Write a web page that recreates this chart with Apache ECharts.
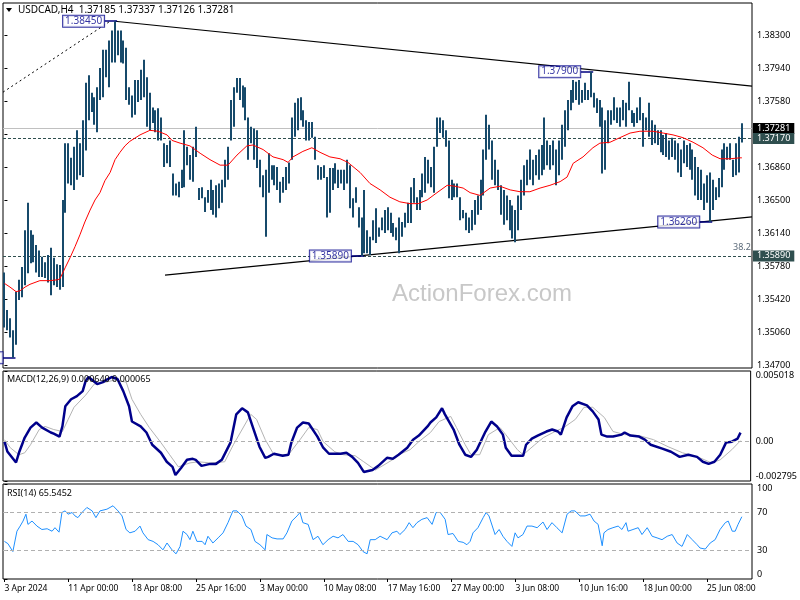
<!DOCTYPE html>
<html><head><meta charset="utf-8">
<script src="https://cdn.jsdelivr.net/npm/echarts@6/dist/echarts.min.js"></script>
<style>html,body{margin:0;padding:0;background:#fff}#c{width:800px;height:600px}</style>
</head><body><div id="c"></div>
<script>
// ---- DATA ----
const symbolName = 'USDCAD,H4';
const lastBarOHLC = [1.37185, 1.37337, 1.37126, 1.37281];
const highs = [
1.3571,1.3530,1.3521,1.3508,1.3550,1.3563,1.3577,1.3617,1.3647,1.3617,
1.3612,1.3601,1.3595,1.3588,1.3582,1.3590,1.3598,1.3587,1.3580,1.3579,
1.3650,1.3712,1.3712,1.3696,1.3708,1.3726,1.3712,1.3737,1.3778,1.3786,
1.3767,1.3762,1.3773,1.3794,1.3814,1.3814,1.3824,1.3835,1.3845,1.3835,
1.3835,1.3824,1.3816,1.3773,1.3764,1.3781,1.3781,1.3792,1.3803,1.3784,
1.3767,1.3751,1.3748,1.3750,1.3740,1.3712,1.3710,1.3715,1.3679,1.3668,
1.3670,1.3683,1.3726,1.3708,1.3699,1.3708,1.3730,1.3663,1.3664,1.3653,
1.3661,1.3672,1.3661,1.3666,1.3668,1.3672,1.3694,1.3708,1.3759,1.3773,
1.3783,1.3783,1.3775,1.3773,1.3740,1.3730,1.3728,1.3726,1.3694,1.3677,
1.3683,1.3701,1.3688,1.3688,1.3686,1.3670,1.3675,1.3686,1.3691,1.3740,
1.3756,1.3761,1.3762,1.3748,1.3737,1.3735,1.3735,1.3719,1.3688,1.3686,
1.3688,1.3675,1.3685,1.3685,1.3690,1.3683,1.3683,1.3683,1.3694,1.3688,
1.3652,1.3664,1.3642,1.3631,1.3661,1.3617,1.3610,1.3628,1.3641,1.3620,
1.3631,1.3639,1.3642,1.3636,1.3625,1.3620,1.3631,1.3626,1.3636,1.3647,
1.3664,1.3674,1.3653,1.3661,1.3679,1.3697,1.3694,1.3686,1.3708,1.3740,
1.3740,1.3737,1.3726,1.3715,1.3672,1.3668,1.3668,1.3653,1.3639,1.3636,
1.3631,1.3639,1.3650,1.3655,1.3672,1.3705,1.3743,1.3732,1.3715,1.3694,
1.3683,1.3666,1.3661,1.3655,1.3650,1.3644,1.3639,1.3655,1.3672,1.3688,
1.3694,1.3705,1.3694,1.3699,1.3705,1.3710,1.3740,1.3715,1.3710,1.3715,
1.3705,1.3715,1.3732,1.3748,1.3759,1.3770,1.3781,1.3779,1.3781,1.3770,
1.3778,1.3770,1.3790,1.3767,1.3761,1.3759,1.3751,1.3737,1.3748,1.3748,
1.3762,1.3751,1.3751,1.3759,1.3756,1.3779,1.3748,1.3745,1.3751,1.3762,
1.3745,1.3740,1.3756,1.3737,1.3732,1.3726,1.3726,1.3721,1.3723,1.3715,
1.3718,1.3715,1.3712,1.3705,1.3715,1.3710,1.3712,1.3705,1.3697,1.3686,
1.3683,1.3668,1.3677,1.3680,1.3672,1.3664,1.3674,1.3705,1.3712,1.3708,
1.3712,1.3694,1.3712,1.3719,1.37337];
const lows = [
1.3511,1.3508,1.3500,1.3478,1.3492,1.3541,1.3544,1.3557,1.3570,1.3581,
1.3582,1.3571,1.3566,1.3566,1.3565,1.3560,1.3546,1.3557,1.3555,1.3552,
1.3555,1.3636,1.3668,1.3666,1.3661,1.3672,1.3677,1.3675,1.3704,1.3737,
1.3746,1.3732,1.3724,1.3759,1.3762,1.3784,1.3773,1.3800,1.3800,1.3808,
1.3800,1.3799,1.3759,1.3754,1.3740,1.3743,1.3757,1.3759,1.3762,1.3730,
1.3726,1.3734,1.3724,1.3715,1.3715,1.3686,1.3690,1.3686,1.3655,1.3655,
1.3653,1.3663,1.3664,1.3688,1.3672,1.3670,1.3697,1.3650,1.3652,1.3637,
1.3647,1.3639,1.3634,1.3631,1.3641,1.3647,1.3664,1.3672,1.3715,1.3730,
1.3767,1.3759,1.3751,1.3737,1.3694,1.3712,1.3694,1.3685,1.3664,1.3653,
1.3610,1.3658,1.3672,1.3666,1.3661,1.3647,1.3658,1.3661,1.3668,1.3694,
1.3719,1.3726,1.3737,1.3730,1.3715,1.3715,1.3718,1.3694,1.3672,1.3672,
1.3674,1.3631,1.3636,1.3661,1.3668,1.3663,1.3668,1.3661,1.3668,1.3641,
1.3631,1.3647,1.3620,1.3589,1.3592,1.3592,1.3590,1.3606,1.3603,1.3610,
1.3617,1.3614,1.3617,1.3614,1.3610,1.3606,1.3592,1.3610,1.3620,1.3625,
1.3625,1.3647,1.3639,1.3639,1.3653,1.3658,1.3668,1.3664,1.3658,1.3708,
1.3723,1.3718,1.3708,1.3652,1.3650,1.3653,1.3653,1.3628,1.3630,1.3617,
1.3614,1.3617,1.3623,1.3634,1.3639,1.3655,1.3694,1.3705,1.3672,1.3666,
1.3661,1.3634,1.3623,1.3628,1.3617,1.3608,1.3604,1.3617,1.3639,1.3655,
1.3666,1.3672,1.3666,1.3677,1.3672,1.3677,1.3683,1.3688,1.3683,1.3688,
1.3666,1.3677,1.3694,1.3708,1.3726,1.3748,1.3756,1.3759,1.3754,1.3756,
1.3759,1.3759,1.3762,1.3751,1.3745,1.3730,1.3679,1.3683,1.3712,1.3732,
1.3737,1.3734,1.3730,1.3737,1.3730,1.3748,1.3734,1.3730,1.3734,1.3737,
1.3708,1.3726,1.3719,1.3710,1.3712,1.3710,1.3702,1.3699,1.3697,1.3694,
1.3697,1.3694,1.3680,1.3675,1.3690,1.3686,1.3683,1.3672,1.3655,1.3650,
1.3650,1.3639,1.3647,1.3626,1.3639,1.3650,1.3653,1.3664,1.3683,1.3694,
1.3694,1.3675,1.3677,1.3680,1.37126];

const maPos = [0,1.9,4,5.4,7.1,8.8,12.2,15.7,18.4,19.1,20.9,22.6,24.3,26,27.7,29.5,31.2,32.9,34.6,36.4,38.1,39.8,41.5,43.2,46.7,50.1,52.9,56,57.7,60.5,63.9,67.4,70.8,74.3,77,80.1,83.5,85.6,89.1,92.5,96,97.7,99.4,102.8,105.9,108.7,112.1,115.6,118.3,122.5,125.9,129.4,132.8,136.2,139.7,142.5,145.6,149,152.5,155.2,158,160.4,163.8,167.3,170.7,174.2,177.6,181,184.5,187.9,191.4,193.8,195.9,199.3,202.7,205.1,208.6,212,215.5,218.9,223.4,226.9,230.3,233.7,237.2,240.6,243.8,246.5,250,253.4,254];
const maVal = [1.3559,1.3555,1.3550,1.3551,1.3555,1.3558,1.3562,1.3562,1.3563,1.3564,1.3576,1.3587,1.3599,1.3612,1.3626,1.3639,1.3650,1.3658,1.3671,1.3680,1.3694,1.3702,1.3709,1.3714,1.3721,1.3726,1.3725,1.3721,1.3715,1.3712,1.3709,1.3701,1.3694,1.3688,1.3688,1.3699,1.3709,1.3710,1.3705,1.3697,1.3694,1.3691,1.3697,1.3703,1.3707,1.3702,1.3697,1.3695,1.3691,1.3680,1.3668,1.3661,1.3653,1.3648,1.3646,1.3646,1.3650,1.3658,1.3666,1.3665,1.3663,1.3658,1.3655,1.3663,1.3665,1.3661,1.3659,1.3659,1.3663,1.3666,1.3670,1.3675,1.3690,1.3697,1.3707,1.3712,1.3713,1.3718,1.3723,1.3725,1.3725,1.3723,1.3721,1.3718,1.3713,1.3707,1.3699,1.3695,1.3695,1.3696,1.3696];

const macdPos = [0,1,4,5,7,9,11,13,16,17,19,20,21,23,25,27,28,29,32,34,35,37,39,41,43,44,47,49,51,54,56,58,59,61,63,65,66,68,71,73,75,78,80,82,84,86,88,90,91,93,96,98,99,101,103,105,108,110,112,116,118,120,122,124,127,129,132,134,136,139,141,143,146,147,149,151,152,155,157,159,161,163,166,168,170,172,173,175,179,180,182,184,187,189,191,192,194,196,198,201,203,205,206,208,210,213,214,216,219,221,223,227,230,233,236,239,241,243,245,247,249,251,253,254];
const macdVal = [0.00002,-0.0007,-0.00148,-0.00079,0.00029,0.001,0.00136,0.001,0.00065,0.00057,0.00036,0.00108,0.00251,0.00301,0.00323,0.00359,0.0043,0.00459,0.00409,0.00423,0.00437,0.00459,0.00445,0.00359,0.00251,0.00143,0.00108,0.00065,-0.00022,-0.00079,-0.00143,-0.00179,-0.00237,-0.00186,-0.00129,-0.00122,-0.00129,-0.00172,-0.00158,-0.00158,-0.00129,-0.00007,0.00194,0.00237,0.00208,0.00086,-0.00036,-0.00115,-0.00108,-0.00086,-0.001,-0.00093,-0.00007,0.001,0.00136,0.00129,0.00036,-0.00043,-0.00086,-0.00086,-0.00079,-0.00108,-0.00151,-0.00215,-0.00201,-0.00172,-0.00115,-0.00122,-0.00093,-0.00043,0.00014,0.00043,0.00108,0.00136,0.00172,0.00237,0.00194,0.00086,-0.00022,-0.00093,-0.00108,-0.00057,0.00072,0.00143,0.00108,0.0005,-0.00043,-0.001,-0.001,-0.00022,0.00022,0.00043,0.00072,0.00086,0.00072,0.0005,0.00172,0.00251,0.0028,0.00258,0.00215,0.00158,0.0005,0.00036,0.00036,0.0005,0.00065,0.00043,0.00036,0.00014,-0.00022,-0.0005,-0.00072,-0.00108,-0.00093,-0.00108,-0.00143,-0.00158,-0.00143,-0.00093,-0.00007,0,0.00022,0.00064];
const sigPos = [0,2,5,7,9,12,14,17,20,22,24,28,31,35,38,42,44,47,50,54,57,60,64,67,71,76,79,85,87,90,93,98,102,105,108,110,114,117,121,124,128,131,135,136,140,143,147,150,154,156,159,161,164,167,171,173,177,179,183,186,190,193,197,200,203,207,210,214,219,224,229,234,240,244,247,251,254];
const sigVal = [0.00014,-0.00043,-0.00093,-0.00079,-0.00022,0.00086,0.00108,0.00086,0.00072,0.00158,0.00244,0.0033,0.00409,0.00423,0.00437,0.00423,0.00301,0.00194,0.001,-0.00007,-0.00093,-0.00179,-0.00151,-0.00143,-0.00151,-0.00143,-0.00022,0.00194,0.00158,0.00014,-0.00093,-0.00093,0.00014,0.001,0.00086,0,-0.00072,-0.00093,-0.001,-0.00143,-0.00201,-0.00165,-0.00115,-0.00093,-0.00057,0,0.00065,0.00143,0.00179,0.001,-0.00022,-0.00093,-0.00093,0.0005,0.001,0.0005,-0.00057,-0.00093,-0.00022,0.00029,0.00072,0.001,0.00158,0.00244,0.00244,0.00172,0.00072,0.0005,0.00043,0.00014,-0.00036,-0.00079,-0.00115,-0.00151,-0.00129,-0.00057,0.00007];

const rsiPos = [0,1.2,2.9,4.3,5.4,6.4,7.4,8.1,9.5,11.2,12.9,14.7,16.4,17.4,18.8,19.8,20.9,21.9,23.3,24.3,25.3,26.7,28.4,30.2,31.5,32.9,35.3,37.4,39.1,40.5,41.9,43.2,45,46.7,47.7,49.5,51.2,52.9,54.6,56,57.7,59.1,60.5,61.5,62.9,63.9,64.9,66.3,68.1,69.1,70.1,71.8,73.6,75.3,77,78.7,80.1,81.8,83.2,84.9,86.3,88,89.8,90.4,92.2,93.9,96,97.3,99,100.8,101.8,102.8,104.6,106.3,108,109.7,111.5,113.2,114.9,116.6,118.4,120.1,121.8,123.5,124.9,126,127.7,129.4,131.8,133.5,135.2,136.2,138,139.4,140.7,142.1,143.8,145.6,147.3,148.7,150.1,151.8,152.8,154.5,156.3,158,159.3,160.4,161.4,163.1,164.9,165.9,166.9,169,170.4,171.7,173.1,174.8,175.9,176.9,178.6,180,181.7,183.5,185.5,186.9,188.6,190.3,192.1,193.8,195.2,196.5,198.3,200,201.7,203.1,204.5,205.9,206.5,207.9,209.6,211.4,212.7,214.1,214.8,216.5,218.3,219.6,221.4,223.1,224.8,226.5,228.3,230,231.7,233.4,235.2,236.9,238.6,239.6,241.4,243.1,244.8,246.5,248.3,249.3,250.7,251.7,252.7,254];
const rsiVal = [39.6,37.2,28.9,50.3,55.7,61,68.2,57.5,61,55.7,52.1,52.9,50.3,54,49.3,70,71.7,68.2,70,66.4,64.6,70,75.3,71.7,64.6,71.7,73.5,77.1,71.7,66.4,52.1,48.6,50.3,55.7,48.6,41.4,39.6,36.1,30.7,37.9,30.7,26.5,34.3,50.3,46.8,41.4,50.3,39.6,39.6,36.1,45,37.9,43.3,48.6,59.3,71.7,71.7,66.4,55.7,52.1,39.6,36.1,30.7,46.8,43.3,42.2,42.2,48.6,61,66.4,70,59.3,57.5,41.4,45,36.1,41.4,45,43.3,46.8,39.6,39.6,36.1,28.9,26.5,41.4,41.4,45,41.4,48.6,50.3,46.8,52.1,59.3,54,59.3,62.8,64.6,57.5,70,70,62.8,46.8,47.9,39.6,38.6,36.1,39.6,48.6,54,64.6,70,66.4,46.8,52.1,45,39.6,34.3,48.6,43.3,46.8,55.7,55.7,54,60,52.1,59.3,54,48.6,68.2,71.7,71.7,66.4,66.4,68.2,61,57.5,35,48.6,52.1,54,55.7,52.1,59.3,50.3,52.1,54,46.8,54,45,43.3,41.4,45,46.8,37.9,34.3,46.8,41.4,36.1,32.6,31.5,37.9,41.4,52.1,59.3,61,50.3,50.3,57.5,65.5452];

const priceTicks = [1.347,1.3506,1.3542,1.3578,1.3614,1.365,1.3686,1.3722,1.3758,1.3794,1.383];
const macdTicks = [-0.002795, 0, 0.005018];
const rsiTicks = [0, 30, 70, 100];
const timeLabels = ['3 Apr 2024','11 Apr 00:00','18 Apr 08:00','25 Apr 16:00','3 May 00:00','10 May 08:00','17 May 16:00','27 May 00:00','3 Jun 08:00','10 Jun 16:00','18 Jun 00:00','25 Jun 08:00'];
const timeTickPos = [0,22,44,66,88,110,132,154,176,198,220,242];
const bidPrice = 1.37281, refLevel = 1.37170, fibLevel = 1.35890;
const swingBars = [38, 202, 243, 123, 3];
const swingPrices = [1.38450, 1.37900, 1.36260, 1.35890, 1.34780];
const trendDown = [[38, 1.3845], [257.5, 1.37742]];
const trendUp = [[55.3, 1.3568], [257.5, 1.36316]];
const trendDotted = [[-0.5, 1.37676], [36.4, 1.3845]];
const macdLast = [0.000640, 0.000065];
const rsiLast = 65.5452;

// ---- CHART ----
const FONT = '"Noto Sans", "DejaVu Sans", sans-serif';
const barColor = '#174a6b';
const xMin = -0.5, xMax = 257.5;
const chart = echarts.init(document.getElementById('c'), null, {renderer: 'canvas'});

const hidX = (g) => ({type: 'value', gridIndex: g, min: xMin, max: xMax, show: false});
const labelBox = {color: '#00008b', backgroundColor: '#fff', borderColor: '#00008b', borderWidth: 1,
  padding: [1, 2, 0, 2], fontSize: 10, fontFamily: FONT, lineHeight: 10};

chart.setOption({
  animation: false,
  backgroundColor: '#fff',
  grid: [
    {left: 3, top: 3, width: 749, height: 365, show: true, borderColor: '#000', borderWidth: 1, backgroundColor: 'transparent'},
    {left: 3, top: 371, width: 749, height: 110, show: true, borderColor: '#000', borderWidth: 1},
    {left: 3, top: 484, width: 749, height: 95, show: true, borderColor: '#000', borderWidth: 1}
  ],
  xAxis: [hidX(0), hidX(1), {
    type: 'value', gridIndex: 2, min: xMin, max: xMax,
    axisLine: {show: false}, splitLine: {show: false},
    axisTick: {show: true, customValues: timeTickPos, length: 3, lineStyle: {color: '#000'}},
    axisLabel: {customValues: timeTickPos, formatter: v => timeLabels[timeTickPos.indexOf(v)] || '',
      align: 'left', color: '#000', fontSize: 8.5, fontFamily: FONT, margin: 5}
  }],
  yAxis: [
    {type: 'value', gridIndex: 0, position: 'right', min: 1.34667, max: 1.38649, scale: true,
      axisLine: {show: false}, splitLine: {show: false},
      axisTick: {show: true, customValues: priceTicks, length: 3, lineStyle: {color: '#000'}},
      axisLabel: {customValues: priceTicks, formatter: v => v.toFixed(5), color: '#000', fontSize: 9, fontFamily: FONT, margin: 5}},
    {type: 'value', gridIndex: 1, position: 'right', min: -0.002795, max: 0.005018,
      axisLine: {show: false}, splitLine: {show: false},
      axisTick: {show: true, customValues: macdTicks, length: 3, lineStyle: {color: '#000'}},
      axisLabel: {customValues: macdTicks, formatter: v => v === 0 ? '0.00' : v.toFixed(6), color: '#000', fontSize: 9, fontFamily: FONT, margin: 5,
        verticalAlignMaxLabel: 'top', verticalAlignMinLabel: 'bottom'}},
    {type: 'value', gridIndex: 2, position: 'right', min: 0, max: 100,
      axisLine: {show: false}, splitLine: {show: false},
      axisTick: {show: true, customValues: rsiTicks, length: 3, lineStyle: {color: '#000'}},
      axisLabel: {customValues: rsiTicks, formatter: v => String(v), color: '#000', fontSize: 9, fontFamily: FONT, margin: 5,
        verticalAlignMaxLabel: 'top', verticalAlignMinLabel: 'bottom'}}
  ],
  series: [
    {
      type: 'custom', name: 'price', xAxisIndex: 0, yAxisIndex: 0, z: 3,
      data: highs.map((h, i) => [i, lows[i], h]),
      encode: {x: 0, y: [1, 2]},
      renderItem: (params, api) => {
        const i = api.value(0);
        const top = api.coord([i, api.value(2)]);
        const bot = api.coord([i, api.value(1)]);
        return {type: 'rect', shape: {x: Math.round(top[0]) - 1, y: top[1], width: 2, height: Math.max(1, bot[1] - top[1])},
          style: {fill: barColor}};
      }
    },
    {
      type: 'line', name: 'MA', xAxisIndex: 0, yAxisIndex: 0, z: 4,
      data: maPos.map((p, i) => [p, maVal[i]]), symbol: 'none', smooth: false,
      lineStyle: {color: '#ff0000', width: 1},
      markLine: {
        silent: true, symbol: ['none', 'none'], z: 2, precision: 6,
        label: {show: true, position: 'end', distance: 1, color: '#fff', fontSize: 9, fontFamily: FONT, padding: [1, 4, 1, 4]},
        data: [
          {yAxis: bidPrice, lineStyle: {color: '#c0c0c0', type: 'solid', width: 1}, label: {formatter: bidPrice.toFixed(5), backgroundColor: '#000'}},
          {yAxis: refLevel, lineStyle: {color: '#2f4f4f', type: [3, 2], width: 1}, label: {formatter: refLevel.toFixed(5), backgroundColor: '#2f4f4f'}},
          {yAxis: fibLevel, lineStyle: {color: '#2f4f4f', type: [3, 2], width: 1}, label: {formatter: fibLevel.toFixed(5), backgroundColor: '#2f4f4f'}},
          [{coord: trendDown[0], lineStyle: {color: '#000', type: 'solid', width: 1.2}, label: {show: false}}, {coord: trendDown[1]}],
          [{coord: trendUp[0], lineStyle: {color: '#000', type: 'solid', width: 1.2}, label: {show: false}}, {coord: trendUp[1]}],
          [{coord: trendDotted[0], lineStyle: {color: '#000', type: [2, 3], width: 1}, label: {show: false}}, {coord: trendDotted[1]}]
        ].concat(swingBars.map((b, k) => [
          {coord: [b - 3.5, swingPrices[k]], lineStyle: {color: '#000080', type: 'solid', width: 1.5}, label: {show: false}},
          {coord: [b + 0.8, swingPrices[k]]}
        ]))
      }
    },
    {
      type: 'scatter', name: 'swings', xAxisIndex: 0, yAxisIndex: 0, z: 6,
      data: swingBars.map((b, k) => [b - 3.5, swingPrices[k]]),
      symbolSize: 1, itemStyle: {color: 'rgba(0,0,0,0)'},
      label: Object.assign({show: true, position: 'left', distance: 0, formatter: p => swingPrices[p.dataIndex].toFixed(5)}, labelBox)
    },
    {
      type: 'line', name: 'MACD', xAxisIndex: 1, yAxisIndex: 1, z: 4,
      data: macdPos.map((p, i) => [p, macdVal[i]]), symbol: 'none',
      lineStyle: {color: '#00008b', width: 2.5},
      markLine: {silent: true, symbol: ['none', 'none'], label: {show: false}, precision: 6,
        lineStyle: {color: '#b0b0b0', type: [4, 3], width: 1}, data: [{yAxis: 0}]}
    },
    {
      type: 'line', name: 'Signal', xAxisIndex: 1, yAxisIndex: 1, z: 3,
      data: sigPos.map((p, i) => [p, sigVal[i]]), symbol: 'none',
      lineStyle: {color: '#b4b4b4', width: 1}
    },
    {
      type: 'line', name: 'RSI', xAxisIndex: 2, yAxisIndex: 2, z: 4,
      data: rsiPos.map((p, i) => [p, rsiVal[i]]), symbol: 'none',
      lineStyle: {color: '#1e90ff', width: 1},
      markLine: {silent: true, symbol: ['none', 'none'], label: {show: false},
        lineStyle: {color: '#b0b0b0', type: [4, 3], width: 1}, data: [{yAxis: 30}, {yAxis: 70}]}
    }
  ],
  graphic: [
    {type: 'text', x: 392, y: 294, z: 0, style: {text: 'ActionForex.com', font: '24px "Liberation Sans", Arial, sans-serif', fill: '#c8c8c8', textVerticalAlign: 'middle'}},
    {type: 'polygon', z: 10, shape: {points: [[6, 8], [12, 8], [9, 12]]}, style: {fill: '#000'}},
    {type: 'text', x: 18, y: 10, z: 10, style: {text: symbolName + '  ' + lastBarOHLC.map(v => v.toFixed(5)).join(' '), font: '10px ' + FONT, fill: '#000', textVerticalAlign: 'middle'}},
    {type: 'text', x: 7, y: 379, z: 10, style: {text: 'MACD(12,26,9) ' + macdLast[0].toFixed(6) + ' ' + macdLast[1].toFixed(6), font: '9px ' + FONT, fill: '#000', textVerticalAlign: 'middle'}},
    {type: 'text', x: 7, y: 493, z: 10, style: {text: 'RSI(14) ' + rsiLast.toFixed(4), font: '9px ' + FONT, fill: '#000', textVerticalAlign: 'middle'}},
    {type: 'text', x: 733, y: 247, z: 100, zlevel: 1, style: {text: '38.2', font: '9px ' + FONT, fill: '#5c6b7a', textVerticalAlign: 'middle'}}
  ]
});
</script>
</body></html>
